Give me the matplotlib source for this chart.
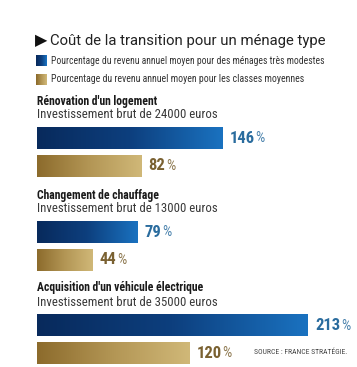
import numpy as np
import matplotlib.pyplot as plt
from matplotlib import font_manager
from matplotlib.colors import LinearSegmentedColormap

# data
sections = ["Rénovation d'un logement", "Changement de chauffage", "Acquisition d'un véhicule électrique"]
investissements = ["24000", "13000", "35000"]
modestes = [146, 79, 213]
moyennes = [82, 44, 120]

title = "Coût de la transition pour un ménage type"
leg_labels = ["Pourcentage du revenu annuel moyen pour des ménages très modestes",
              "Pourcentage du revenu annuel moyen pour les classes moyennes"]
source = "SOURCE : FRANCE STRATÉGIE."

names = {f.name for f in font_manager.fontManager.ttflist}
def pick(*cands):
    for c in cands:
        if c in names:
            return c
    return "DejaVu Sans"
cond = pick("Roboto Condensed", "Archivo Narrow", "Liberation Sans Narrow", "Roboto")
reg = pick("Roboto", "Liberation Sans")
plt.rcParams['font.family'] = [cond, 'DejaVu Sans']

blue_cmap = LinearSegmentedColormap.from_list("b", ["#082a5c", "#0d3f7e", "#1a72c0"])
gold_cmap = LinearSegmentedColormap.from_list("g", ["#8c6b2c", "#b39655", "#d0b878"])

W, H = 357, 367
px = 1.272  # pixels per percent
x0 = 37
fig = plt.figure(figsize=(W / 100, H / 100), dpi=100)
ax = fig.add_axes([0, 0, 1, 1])
ax.axis('off')

def lim():
    ax.set_xlim(-x0 / px, (W - x0) / px)
    ax.set_ylim(H, 0)
lim()
r = fig.canvas.get_renderer()

def X(p):  # pixel column -> data x
    return (p - x0) / px

def fit(t, width):
    # scale font so the text spans the width seen in the picture
    w = t.get_window_extent(renderer=r).width
    t.set_fontsize(t.get_fontsize() * width / w)
    return t

def gbar(y, h, val, cmap):
    ax.barh(y, val, height=h, left=0, color='none')
    grad = np.linspace(0, 1, 256).reshape(1, -1)
    ax.imshow(grad, cmap=cmap, extent=[0, val, y + h / 2, y - h / 2],
              aspect='auto', interpolation='bicubic', zorder=2)

# title and legend
ax.text(X(35), 40.5, "\u25B6", fontsize=11.5, va='center', ha='left', family='DejaVu Sans', color='#111111')
fit(ax.text(X(50.5), 40.5, title, fontsize=12, va='center', ha='left', family=[reg, 'DejaVu Sans'],
            color='#222222'), 275)
leg_w = [275, 257]
for i, (lab, cm) in enumerate(zip(leg_labels, [blue_cmap, gold_cmap])):
    yc = 60.5 + i * 19
    ax.imshow(np.linspace(0, 1, 16).reshape(1, -1), cmap=cm,
              extent=[X(36), X(47), yc + 5.5, yc - 5.5], aspect='auto', zorder=2)
    fit(ax.text(X(51), yc, lab, fontsize=7, va='center', ha='left', color='#333333'), leg_w[i])
lim()

tops = [101, 195, 288]

def value_label(val, y, color):
    t = ax.text(val + 7 / px, y, str(val), fontsize=12, fontweight='bold', va='center', ha='left', color=color)
    bb = t.get_window_extent(renderer=r)
    xd = ax.transData.inverted().transform((bb.x1 + 0.8, 0))[0]
    ax.text(xd, y, "%", fontsize=10.5, va='center', ha='left', color=color, alpha=0.85)

scale_b = None
scale_s = None
for i in range(3):
    ty = tops[i]
    tb = ax.text(0, ty, sections[i], fontsize=9, fontweight='bold', va='center', ha='left', color='#1a1a1a')
    ts = ax.text(0, ty + 14, "Investissement brut de " + investissements[i] + " euros", fontsize=9,
                 va='center', ha='left', color='#3a3a3a')
    if i == 0:
        fit(tb, 121)
        fit(ts, 181)
        scale_b, scale_s = tb.get_fontsize(), ts.get_fontsize()
    else:
        tb.set_fontsize(scale_b)
        ts.set_fontsize(scale_s)
    yb = ty + 37.5
    yg = ty + 65
    gbar(yb, 22, modestes[i], blue_cmap)
    gbar(yg, 22, moyennes[i], gold_cmap)
    value_label(modestes[i], yb, '#2a6c9e')
    value_label(moyennes[i], yg, '#7a6131')

ts = ax.text(X(347), 352, source, fontsize=6, va='center', ha='right', color='#444444')
fit(ts, 94)

lim()
fig.savefig("out.png", dpi=100)
